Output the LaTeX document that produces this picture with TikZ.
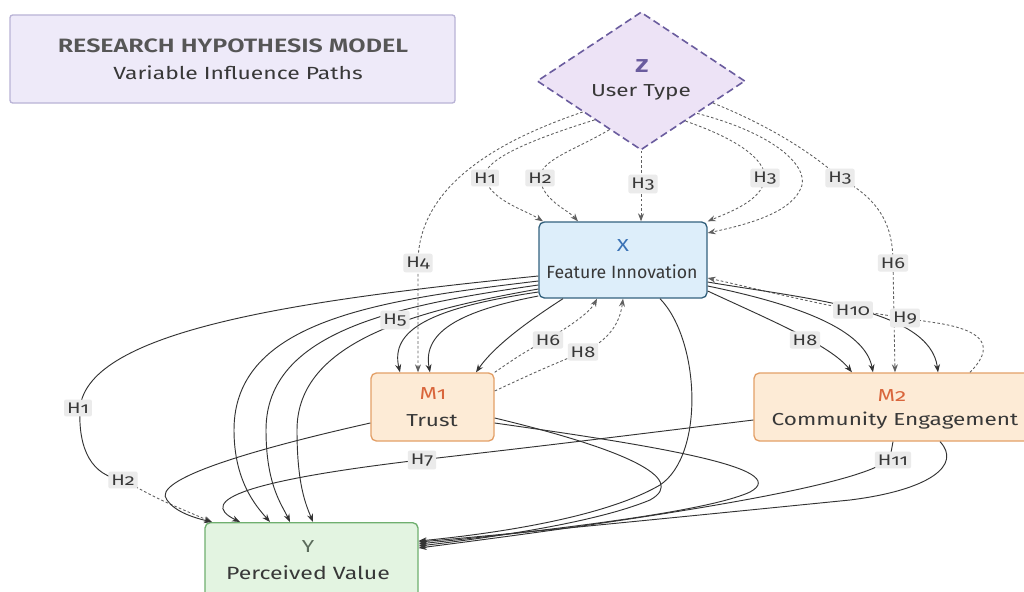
\documentclass[tikz,border=0pt]{standalone}
\usepackage{fontspec}
\setmainfont{Fira Sans}[Numbers=OldStyle, FakeStretch=1.3]
\newfontfamily\plainf{Fira Sans}[Numbers=OldStyle]
\newfontfamily\semif{Fira Sans SemiBold}[FakeStretch=1.3]
\usetikzlibrary{arrows.meta,shapes.geometric}
\definecolor{edgec}{HTML}{333333}
\definecolor{dashc}{HTML}{606060}
\definecolor{labbg}{HTML}{EBEBEB}
\definecolor{txt}{HTML}{383838}
\definecolor{titfill}{HTML}{EEEAF9}
\definecolor{titdraw}{HTML}{B9B3D6}
\definecolor{zfill}{HTML}{EDE3F6}
\definecolor{zdraw}{HTML}{6A5C9E}
\definecolor{xfill}{HTML}{DDEEFA}
\definecolor{xdraw}{HTML}{34627E}
\definecolor{xtxt}{HTML}{3A72B5}
\definecolor{mfill}{HTML}{FDEBD6}
\definecolor{mdraw}{HTML}{E3A068}
\definecolor{mtxt}{HTML}{D9653B}
\definecolor{yfill}{HTML}{E3F4E1}
\definecolor{ydraw}{HTML}{6FAF6F}
\definecolor{ytxt}{HTML}{5B6B5B}
\begin{document}
\begin{tikzpicture}[x=0.75pt,y=-0.75pt,
  sol/.style={draw=edgec, line width=0.7pt, -{Stealth[length=6pt,width=4.5pt]}},
  solnt/.style={draw=edgec, line width=0.7pt},
  dsh/.style={draw=dashc, line width=0.65pt, dash pattern=on 2pt off 1.6pt, -{Stealth[length=6pt,width=4.5pt]}},
  hl/.style={fill=labbg, rounded corners=1.5pt, inner xsep=2.2pt, inner ysep=2.4pt, text=txt, font=\fontsize{11.5}{12}\selectfont},
  boxbase/.style={rectangle, rounded corners=4pt, line width=1pt, inner sep=0pt},
  tx/.style={text=txt, inner sep=0pt, font=\fontsize{13}{14}\selectfont}
]
\useasboundingbox (0,0) rectangle (1024,592);
\fill[white] (0,0) rectangle (1024,592);

% ---------- nodes ----------
\node[boxbase, rounded corners=2pt, fill=titfill, draw=titdraw, minimum width=333.75pt, minimum height=66pt] (T) at (232.5,59) {};
\node[tx, font=\semif\fontsize{14.5}{15}\selectfont, text=txt!85] (T1) at (233,46) {RESEARCH HYPOTHESIS MODEL};
\node[tx, font=\fontsize{13.2}{14}\selectfont] (T2) at (238,73) {Variable Influence Paths};

\node[diamond, fill=zfill, draw=zdraw, line width=1.2pt, dash pattern=on 5.5pt off 3pt, minimum width=156pt, minimum height=103.5pt, inner sep=0pt] (Z) at (641,81) {};
\node[tx, text=zdraw, font=\fontsize{14}{15}\selectfont\bfseries] (Zl) at (642,66) {Z};
\node[tx] (Zt) at (641,92) {User Type};

\node[boxbase, fill=xfill, draw=xdraw, minimum width=126pt, minimum height=57pt] (X) at (623,260) {};
\node[tx, text=xtxt] (Xl) at (623,246) {X};
\node[tx, font=\plainf\fontsize{13.3}{14}\selectfont] (Xt) at (622,272) {Feature Innovation};

\node[boxbase, fill=mfill, draw=mdraw, minimum width=92.25pt, minimum height=51pt] (M1) at (432.5,407) {};
\node[tx, text=mtxt] (M1l) at (433,394) {M1};
\node[tx] (M1t) at (432,421) {Trust};

\node[boxbase, fill=mfill, draw=mdraw, minimum width=210.75pt, minimum height=51pt] (M2) at (894.5,407) {};
\node[tx, text=mtxt] (M2l) at (892,396) {M2};
\node[tx] (M2t) at (895,421) {Community Engagement};

\node[boxbase, fill=yfill, draw=ydraw, minimum width=159.75pt, minimum height=56pt] (Y) at (311.5,560) {};
\node[tx, text=ytxt] (Yl) at (308,547) {Y};
\node[tx, font=\fontsize{13.3}{14}\selectfont] (Yt) at (308,573) {Perceived Value};

\path (123,480) coordinate (pH2b);

% ---------- dashed edges from Z ----------
\draw[dsh] (Z.208) .. controls (500,140) and (418,185) .. (418,263) -- (M1.north -| 418,0);
\draw[dsh] (Z.220) .. controls (530,140) and (482,160) .. (485,178) .. controls (490,200) and (525,210) .. (X.north -| 543,0);
\draw[dsh] (Z.237) .. controls (575,150) and (540,160) .. (540,178) .. controls (542,200) and (568,210) .. (X.north -| 578,0);
\draw[dsh] (Z.south) -- (X.north -| 641,0);
\draw[dsh] (Z.318) .. controls (740,140) and (765,160) .. (765,178) .. controls (763,200) and (730,212) .. (X.north east);
\draw[dsh] (Z.330) .. controls (780,135) and (812,170) .. (800,190) .. controls (788,215) and (740,226) .. (X.east |- 0,233);
\draw[dsh] (Z.343) .. controls (780,130) and (820,160) .. (840,178) .. controls (880,200) and (893,225) .. (893,263) -- (M2.north -| 895,0);

% ---------- dashed edges back to X ----------
\draw[dsh] (M2.north -| 970,0) .. controls (992,350) and (992,330) .. (930,322) -- (853,310) .. controls (800,300) and (740,285) .. (X.east |- 0,278);
\draw[dsh] (M1.north east) .. controls (520,355) .. (548,339) .. controls (572,325) and (590,312) .. (X.south -| 597,0);
\draw[dsh] (M1.east |- 0,391) .. controls (540,370) .. (583,352) .. controls (610,340) and (620,322) .. (X.south -| 623,0);

% ---------- solid edges from X, left fan ----------
\draw[solnt] (X.west |- 0,276) .. controls (300,300) and (88,330) .. (80,408) .. controls (78,450) and (92,476) .. (pH2b);
\draw[dsh] (pH2b) .. controls (160,500) .. (Y.north -| 212,0);
\draw[sol] (X.west |- 0,281) .. controls (380,300) and (234,320) .. (234,430) .. controls (234,480) and (255,505) .. (Y.north -| 270,0);
\draw[sol] (X.west |- 0,285) .. controls (400,305) and (266,330) .. (266,430) .. controls (266,485) and (282,505) .. (Y.north -| 290,0);
\draw[sol] (X.west |- 0,289) .. controls (420,310) and (297,340) .. (297,430) .. controls (297,485) and (306,505) .. (Y.north -| 313,0);
\draw[sol] (X.west |- 0,292) .. controls (430,308) and (390,330) .. (M1.north -| 400,0);
\draw[sol] (X.west |- 0,296) .. controls (465,310) and (422,330) .. (M1.north -| 430,0);
\draw[sol] (X.south -| 563,0) .. controls (530,320) and (495,345) .. (M1.north -| 476,0);

% ---------- solid edges from X, right fan ----------
\draw[sol] (X.east |- 0,291) .. controls (770,320) and (830,345) .. (M2.north -| 852,0);
\draw[sol] (X.east |- 0,286) .. controls (800,305) and (865,330) .. (M2.north -| 873,0);
\draw[sol] (X.east |- 0,282) .. controls (800,298) and (930,308) .. (M2.north -| 938,0);

% ---------- edges into Y ----------
\draw[sol] (X.south -| 660,0) .. controls (700,340) and (705,455) .. (660,485) .. controls (600,520) and (480,535) .. (Y.east |- 0,541);
\draw[sol] (M1.east |- 0,418) .. controls (620,448) and (690,478) .. (650,500) .. controls (590,525) and (470,540) .. (Y.east |- 0,546);
\draw[sol] (M1.east |- 0,423) .. controls (650,445) and (795,468) .. (750,492) .. controls (700,515) and (500,535) .. (Y.east |- 0,544);
\draw[sol] (M2.south -| 940,0) .. controls (962,465) and (930,490) .. (850,500) .. controls (700,515) and (500,535) .. (Y.east |- 0,542);
\draw[sol] (M2.south -| 893,0) -- (890,458) .. controls (870,482) and (700,512) .. (Y.east |- 0,548);
\draw[sol] (M2.west |- 0,420) .. controls (550,445) .. (420,460) .. controls (250,480) and (195,500) .. (Y.north -| 240,0);
\draw[sol] (M1.west |- 0,423) .. controls (250,450) and (150,480) .. (167,500) .. controls (175,512) and (195,518) .. (Y.north -| 212,0);

% ---------- labels ----------
\node[hl] (lH1a) at (485,178) {H1};
\node[hl] (lH2a) at (540,178) {H2};
\node[hl] (lH3a) at (643,184) {H3};
\node[hl] (lH3b) at (765,178) {H3};
\node[hl] (lH3c) at (840,178) {H3};
\node[hl] (lH4) at (418,263) {H4};
\node[hl] (lH6b) at (893,263) {H6};
\node[hl] (lH5) at (395,320) {H5};
\node[hl] (lH10) at (853,310) {H10};
\node[hl] (lH9) at (905,318) {H9};
\node[hl] (lH6a) at (548,340) {H6};
\node[hl] (lH8a) at (583,352) {H8};
\node[hl] (lH8b) at (805,340) {H8};
\node[hl] (lH1b) at (78,408) {H1};
\node[hl] (lH2b) at (pH2b) {H2};
\node[hl] (lH7) at (422,460) {H7};
\node[hl] (lH11) at (893,460) {H11};
\end{tikzpicture}
\end{document}
